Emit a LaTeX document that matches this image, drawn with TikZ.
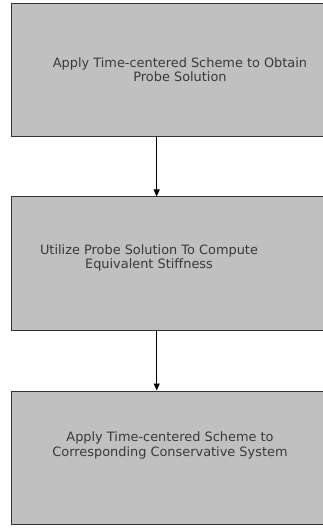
\documentclass[tikz,border=0pt]{standalone}
\usepackage{fontspec}
\setmainfont{DejaVu Sans}
\usetikzlibrary{arrows.meta}
\definecolor{boxfill}{HTML}{C0C0C0}
\definecolor{boxline}{HTML}{333333}
\definecolor{txt}{HTML}{3A3A3A}
\begin{document}
\begin{tikzpicture}[x=1pt,y=-1pt,
  stepbox/.style={draw=boxline,fill=boxfill,line width=1pt,rectangle,minimum width=329pt,minimum height=133pt,anchor=north west,inner sep=0pt},
  lbl/.style={text=txt,align=center,font=\fontsize{12.9}{14.5}\selectfont,inner sep=0pt},
  arr/.style={draw=black,line width=0.8pt,-{Triangle[width=6pt,length=7pt]}}]
\useasboundingbox (0,0) rectangle (322,529);
\fill[white] (0,0) rectangle (322,529);
\node[stepbox] (b1) at (11,2.7) {};
\node[stepbox] (b2) at (11,196.5) {};
\node[stepbox] (b3) at (11,390.5) {};
\node[lbl] (t1) at (180,69.5) {Apply Time-centered Scheme to Obtain\\Probe Solution};
\node[lbl] (t2) at (149,258) {Utilize Probe Solution To Compute\\Equivalent Stiffness};
\node[lbl] (t3) at (170,445.5) {Apply Time-centered Scheme to\\Corresponding Conservative System};
\coordinate (ax) at (156.7,0);
\draw[arr] (b1.south -| ax) -- (b2.north -| ax);
\draw[arr] (b2.south -| ax) -- (b3.north -| ax);
\end{tikzpicture}
\end{document}
